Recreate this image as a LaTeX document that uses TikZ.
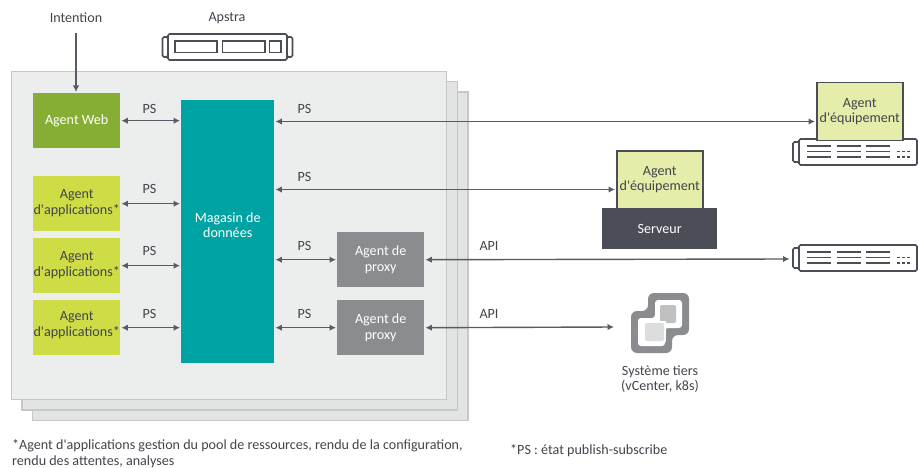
\documentclass[tikz,border=0pt]{standalone}
\usepackage{fontspec}
\setmainfont[Ligatures={TeXOff,Common}]{Carlito}
\usetikzlibrary{arrows.meta}
\definecolor{txt}{HTML}{42454C}
\definecolor{arr}{HTML}{575B63}
\definecolor{edgeg}{HTML}{C6C8C8}
\definecolor{pagea}{HTML}{ECEEED}
\definecolor{pageb}{HTML}{E2E4E3}
\definecolor{webg}{HTML}{86AE34}
\definecolor{appg}{HTML}{CEDC45}
\definecolor{teal}{HTML}{00A3A3}
\definecolor{proxyg}{HTML}{8A8C8F}
\definecolor{devg}{HTML}{E6ECA9}
\definecolor{srv}{HTML}{4B4E56}
\tikzset{
  x=1pt,y=-1pt,
  every node/.style={font=\fontsize{14.1}{15.6}\selectfont,text=txt,inner sep=0pt,align=center},
  pagebox/.style={draw=edgeg,line width=1.6pt},
  conn/.style={draw=arr,line width=1.4pt,{Latex[length=6.5pt,width=6.5pt]}-{Latex[length=6.5pt,width=6.5pt]},shorten <=1pt,shorten >=1pt},
  oneway/.style={draw=arr,line width=1.4pt,-{Latex[length=6.5pt,width=6.5pt]},shorten >=1pt},
  ico/.style={draw=srv,line width=1.7pt,fill=white,rounded corners=1.5pt},
  lineico/.style={draw=srv,line width=1.3pt},
}
\newcommand{\rectnode}[8]{% name, x1,y1,x2,y2, fill, textcolor, text
  \node[fill=#6,text=#7,minimum width=\dimexpr#4pt-#2pt\relax,minimum height=\dimexpr#5pt-#3pt\relax,anchor=north west] (#1) at (#2,#3) {#8};}
\newcommand{\rackico}[2]{% left x, top y
  \begin{scope}[shift={(#1,#2)}]
    \draw[ico] (0,3) rectangle (7,23);
    \draw[ico] (6,0) rectangle (124,26);
    \foreach \xx in {14,43.5,73}{
      \foreach \yy in {7,12.5,18}{\draw[lineico] (\xx,\yy) -- ++(24,0);}
    }
    \foreach \yy in {12.5,18}{\draw[lineico,line width=1.4pt,dash pattern=on 2.6pt off 2.6pt] (104,\yy) -- ++(14,0);}
  \end{scope}}
\begin{document}
\begin{tikzpicture}
\useasboundingbox (0,0) rectangle (918,468);
\fill[white] (0,0) rectangle (918,468);
% stacked pages
\draw[pagebox,fill=pageb] (32.5,92) rectangle (468,420.5);
\draw[pagebox,fill=pageb] (22,81.5) rectangle (457.5,410);
\draw[pagebox,fill=pagea] (11.5,71.5) rectangle (446.5,399.5);
% nodes
\rectnode{web}{33}{93}{120}{148}{webg}{white}{Agent Web}
\rectnode{mag}{181}{100}{274}{363}{teal}{white}{Magasin de\\données\\[-2.6pt]}
\rectnode{appa}{33}{176}{120}{231}{appg}{txt}{Agent\\d'applications*\\[-11.6pt]}
\rectnode{appb}{33}{238}{120}{293}{appg}{txt}{Agent\\d'applications*\\[-11.6pt]}
\rectnode{appc}{33}{300}{120}{355}{appg}{txt}{Agent\\d'applications*\\[-7.6pt]}
\rectnode{pxa}{337}{232}{424}{287}{proxyg}{white}{Agent de\\proxy}
\rectnode{pxb}{337}{300}{424}{355}{proxyg}{white}{Agent de\\proxy}
\node (intent) at (76,17.5) {Intention};
\node (apstra) at (227,18.5) {Apstra};
% Apstra icon
\draw[ico,line width=1.6pt] (162.5,37) rectangle (168,57);
\draw[ico,line width=1.6pt] (287,37) rectangle (292.5,57);
\draw[ico,line width=1.6pt] (168,34) rectangle (287,60);
\draw[draw=srv,line width=1.2pt,fill=white] (175,41) rectangle (217,52.5);
\draw[draw=srv,line width=1.2pt,fill=white] (222.5,41) rectangle (265,52.5);
\draw[draw=srv,line width=1.2pt,fill=white] (269.5,41) rectangle (281,52.5);
% devices
\rackico{793}{139}
\rackico{793}{245}
\node[draw=srv,line width=1.5pt,fill=devg,minimum width=86pt,minimum height=58pt,anchor=north west] (deva) at (816,82) {Agent\\d'équipement};
\node[draw=srv,line width=1.5pt,fill=devg,minimum width=86pt,minimum height=58pt,anchor=north west] (devb) at (616,150) {Agent\\d'équipement};
\rectnode{srvr}{602}{208}{717}{249}{srv}{white}{Serveur}
\coordinate (rackb) at (790.5,259);
\coordinate (deva in) at (deva.west |- 0,121.5);
\coordinate (devb in) at (devb.west |- 0,189.5);
% third-party icon
\begin{scope}
\path[fill=proxyg,rounded corners=6pt] (648,293) -- (689,293) -- (689,335) -- (672,335) -- (672,353) -- (631,353) -- (631,311) -- (648,311) -- cycle;
\path[fill=white,rounded corners=3pt] (655,300) -- (682,300) -- (682,328) -- (665,328) -- (665,346) -- (638,346) -- (638,318) -- (655,318) -- cycle;
\path[fill=proxyg!55,rounded corners=2pt] (660,305) rectangle (676,323);
\path[fill=white] (643,321) rectangle (666,342);
\path[fill=proxyg!30,rounded corners=2pt] (645,323) rectangle (664,341);
\end{scope}
\coordinate (vc) at (615,327);
\node (tiers) at (660,379) {Système tiers\\(vCenter, k8s)};
% connectors
\draw[oneway] (intent.south |- 0,33) -- (intent.south |- web.north);
\draw[conn] (web.east) -- (mag.west |- web.east);
\draw[conn] (appa.east) -- (mag.west |- appa.east);
\draw[conn] (appb.east) -- (mag.west |- appb.east);
\draw[conn] (appc.east) -- (mag.west |- appc.east);
\draw[conn] (mag.east |- deva in) -- (deva in);
\draw[conn] (mag.east |- devb in) -- (devb in);
\draw[conn] (mag.east |- pxa.west) -- (pxa.west);
\draw[conn] (mag.east |- pxb.west) -- (pxb.west);
\draw[conn] (pxa.east) -- (rackb);
\draw[conn] (pxb.east) -- (vc);
% labels
\node at (149.5,109) {PS};
\node at (149.5,189) {PS};
\node at (149.5,251) {PS};
\node at (149.5,314) {PS};
\node at (304.5,109) {PS};
\node at (304.5,177) {PS};
\node at (304.5,246) {PS};
\node at (304.5,314) {PS};
\node at (489,246) {API};
\node at (489,314) {API};
\node[anchor=west,align=left] at (12,453.5) {*Agent d'applications gestion du pool de ressources, rendu de la configuration,\\rendu des attentes, analyses};
\node[anchor=west] at (510,450.5) {*PS : état publish-subscribe};
\end{tikzpicture}
\end{document}
